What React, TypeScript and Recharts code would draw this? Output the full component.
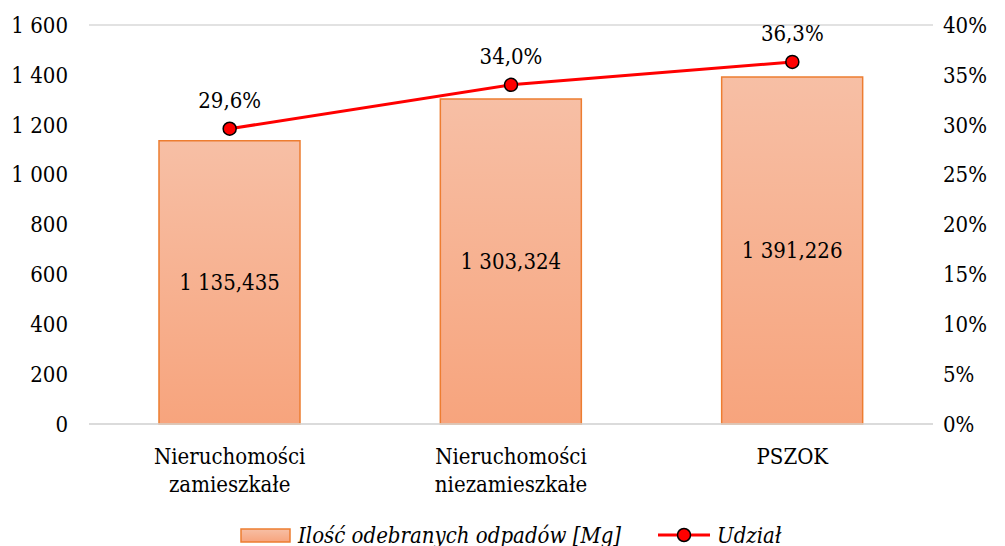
import React from 'react';
import { ComposedChart, Bar, Line, XAxis, YAxis, CartesianGrid, LabelList, Legend } from 'recharts';

const categories = ['Nieruchomości zamieszkałe', 'Nieruchomości niezamieszkałe', 'PSZOK'];
const amounts = [1135.435, 1303.324, 1391.226];
const shares = [29.6, 34.0, 36.3];
const leftTicks = [0, 200, 400, 600, 800, 1000, 1200, 1400, 1600];
const rightTicks = [0, 5, 10, 15, 20, 25, 30, 35, 40];
const seriesNames = ['Ilość odebranych odpadów [Mg]', 'Udział'];

const data = categories.map((c, i) => ({ name: c, amount: amounts[i], share: shares[i] }));

const FONT = "'DejaVu Serif Condensed', 'DejaVu Serif', serif";
const FS = 22;

const thousands = (n: number) => {
  const s = Math.floor(n).toString();
  return s.replace(/\B(?=(\d{3})+(?!\d))/g, ' ');
};
const fmtAmount = (v: number) => {
  const intPart = thousands(v);
  const dec = v.toFixed(3).split('.')[1];
  return `${intPart},${dec}`;
};
const fmtShare = (v: number) => `${v.toFixed(1).replace('.', ',')}%`;

const XTick = (props: any) => {
  const { x, y, payload } = props;
  const words = String(payload.value).split(' ');
  return (
    <text x={x} y={y} textAnchor="middle" fill="#000" fontFamily={FONT} fontSize={FS} style={{ fontStretch: 'condensed' }}>
      {words.map((w, i) => (
        <tspan key={i} x={x} dy={i === 0 ? 32 : 28}>{w}</tspan>
      ))}
    </text>
  );
};

const LegendContent = () => (
  <svg width={1005} height={48} style={{ overflow: 'visible', display: 'block' }}>
    <defs>
      <linearGradient id="legGrad" x1="0" y1="0" x2="0" y2="1">
        <stop offset="0%" stopColor="#F7BFA5" />
        <stop offset="100%" stopColor="#F7A47D" />
      </linearGradient>
    </defs>
    <rect x={241} y={31} width={49} height={13} fill="url(#legGrad)" stroke="#ED7D31" strokeWidth={1.5} />
    <text x={298} y={45} fontFamily={FONT} fontSize={FS} fontStyle="italic" fill="#000" style={{ fontStretch: 'condensed' }}>{seriesNames[0]}</text>
    <line x1={658} y1={37} x2={710} y2={37} stroke="#FF0000" strokeWidth={3} />
    <circle cx={684} cy={37} r={6.5} fill="#FF0000" stroke="#000" strokeWidth={1.5} />
    <text x={717} y={45} fontFamily={FONT} fontSize={FS} fontStyle="italic" fill="#000" style={{ fontStretch: 'condensed' }}>{seriesNames[1]}</text>
  </svg>
);

export default function App() {
  return (
    <div style={{ position: 'absolute', left: 0, top: 0, width: 1005, height: 546, background: '#fff' }}>
      <ComposedChart width={1005} height={546} data={data} margin={{ top: 25, right: 0, bottom: 0, left: 0 }}>
        <defs>
          <linearGradient id="barGrad" x1="0" y1="0" x2="0" y2="1">
            <stop offset="0%" stopColor="#F7BFA5" />
            <stop offset="100%" stopColor="#F7A47D" />
          </linearGradient>
        </defs>
        <CartesianGrid vertical={false} stroke="#D9D9D9" strokeWidth={1.5} />
        <XAxis
          dataKey="name"
          axisLine={{ stroke: '#D9D9D9', strokeWidth: 1.5 }}
          tickLine={false}
          tick={<XTick />}
          height={74}
          interval={0}
        />
        <YAxis
          yAxisId="left"
          domain={[0, 1600]}
          ticks={leftTicks}
          width={89}
          axisLine={false}
          tickLine={false}
          tickMargin={15}
          tickFormatter={(v: number) => thousands(v)}
          tick={{ fill: '#000', fontFamily: FONT, fontSize: FS, style: { fontStretch: 'condensed' } } as any}
          interval={0}
        />
        <YAxis
          yAxisId="right"
          orientation="right"
          domain={[0, 40]}
          ticks={rightTicks}
          width={72}
          axisLine={false}
          tickLine={false}
          tickMargin={4}
          tickFormatter={(v: number) => `${v}%`}
          tick={{ fill: '#000', fontFamily: FONT, fontSize: FS, textAnchor: 'start', style: { fontStretch: 'condensed' } } as any}
          interval={0}
        />
        <Legend verticalAlign="bottom" height={48} content={<LegendContent />} />
        <Bar yAxisId="left" dataKey="amount" name={seriesNames[0]} fill="url(#barGrad)" stroke="#ED7D31" strokeWidth={1.5} barSize={141} isAnimationActive={false}>
          <LabelList dataKey="amount" position="center" formatter={(v: any) => fmtAmount(Number(v))} fill="#000" fontFamily={FONT} fontSize={FS} style={{ fontStretch: 'condensed' }} />
        </Bar>
        <Line yAxisId="right" dataKey="share" name={seriesNames[1]} stroke="#FF0000" strokeWidth={3} type="linear"
          dot={{ r: 6.5, fill: '#FF0000', stroke: '#000', strokeWidth: 1.5 }} activeDot={false} isAnimationActive={false}>
          <LabelList dataKey="share" position="top" offset={21} formatter={(v: any) => fmtShare(Number(v))} fill="#000" fontFamily={FONT} fontSize={FS} style={{ fontStretch: 'condensed' }} />
        </Line>
      </ComposedChart>
    </div>
  );
}
